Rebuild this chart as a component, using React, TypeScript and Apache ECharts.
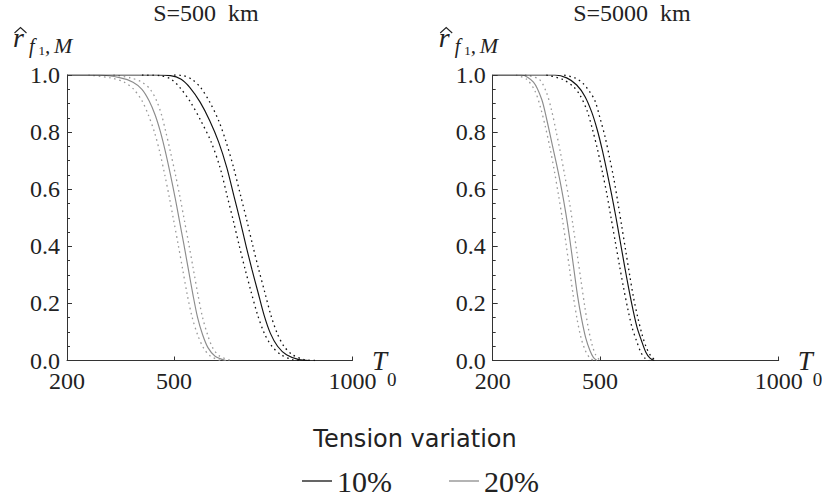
import React, { useEffect, useRef } from "react";
import * as echarts from "echarts";

const panelTitles = ["S=500  km", "S=5000  km"];
const xTicks = [200, 500, 1000];
const yTicks = [0, 0.2, 0.4, 0.6, 0.8, 1.0];
const legendTitle = "Tension variation";
const legendNames = ["10%", "20%"];

// S = 500 km : [T0, r]
const s500BlackSolid = [[200, 1], [450, 1], [490, 0.998], [520, 0.985], [545, 0.955], [573, 0.905], [600, 0.84], [625, 0.765], [648, 0.675], [668, 0.575], [685, 0.49], [702, 0.4], [718, 0.32], [735, 0.24], [752, 0.16], [770, 0.095], [790, 0.05], [815, 0.02], [850, 0.003], [880, 0]];
const s500BlackLo = [[410, 1], [460, 0.998], [492, 0.985], [517, 0.955], [546, 0.905], [575, 0.84], [604, 0.765], [629, 0.675], [649, 0.575], [666, 0.49], [683, 0.4], [699, 0.32], [716, 0.24], [734, 0.16], [753, 0.095], [774, 0.05], [800, 0.02], [832, 0.003], [860, 0]];
const s500BlackHi = [[500, 1], [525, 0.998], [550, 0.985], [575, 0.955], [600, 0.905], [625, 0.84], [646, 0.765], [667, 0.675], [687, 0.575], [704, 0.49], [721, 0.4], [737, 0.32], [754, 0.24], [771, 0.16], [789, 0.095], [808, 0.05], [832, 0.02], [865, 0.003], [895, 0]];
const s500GraySolid = [[200, 1], [290, 1], [350, 0.99], [385, 0.975], [410, 0.95], [430, 0.91], [447, 0.86], [462, 0.8], [476, 0.73], [490, 0.65], [503, 0.57], [515, 0.49], [527, 0.41], [540, 0.32], [553, 0.23], [566, 0.15], [580, 0.09], [595, 0.045], [615, 0.015], [645, 0]];
const s500GrayLo = [[260, 1], [322, 0.99], [360, 0.975], [387, 0.95], [410, 0.91], [428, 0.86], [445, 0.8], [460, 0.73], [474, 0.65], [487, 0.57], [499, 0.49], [511, 0.41], [524, 0.32], [537, 0.23], [551, 0.15], [566, 0.09], [582, 0.045], [602, 0.015], [630, 0]];
const s500GrayHi = [[330, 1], [378, 0.99], [410, 0.975], [433, 0.95], [451, 0.91], [465, 0.86], [477, 0.8], [490, 0.73], [504, 0.65], [517, 0.57], [529, 0.49], [541, 0.41], [554, 0.32], [567, 0.23], [580, 0.15], [594, 0.09], [608, 0.045], [628, 0.015], [660, 0]];

// S = 5000 km : [T0, r]
const s5000BlackSolid = [[200, 1], [374, 1], [407, 0.99], [435, 0.965], [458, 0.925], [477, 0.87], [492, 0.81], [506, 0.74], [519, 0.665], [532, 0.585], [545, 0.5], [557, 0.415], [569, 0.33], [580, 0.255], [592, 0.18], [604, 0.115], [616, 0.07], [628, 0.03], [640, 0.008], [652, 0]];
const s5000BlackLo = [[350, 1], [395, 0.985], [425, 0.96], [444, 0.93], [464, 0.875], [479, 0.81], [493, 0.74], [506, 0.665], [519, 0.585], [531, 0.5], [543, 0.415], [555, 0.33], [566, 0.255], [578, 0.18], [590, 0.115], [602, 0.07], [614, 0.03], [626, 0.008], [638, 0]];
const s5000BlackHi = [[400, 1], [430, 0.99], [453, 0.97], [472, 0.94], [486, 0.91], [500, 0.85], [514, 0.785], [527, 0.71], [539, 0.635], [550, 0.555], [561, 0.47], [572, 0.385], [583, 0.3], [594, 0.22], [606, 0.15], [618, 0.09], [630, 0.045], [643, 0.015], [656, 0]];
const s5000GraySolid = [[200, 1], [280, 1], [314, 0.975], [337, 0.915], [351, 0.845], [365, 0.765], [379, 0.685], [392, 0.605], [404, 0.52], [415, 0.43], [426, 0.33], [437, 0.23], [448, 0.15], [460, 0.08], [472, 0.035], [482, 0.01], [492, 0]];
const s5000GrayLo = [[265, 1], [295, 0.985], [318, 0.945], [334, 0.885], [348, 0.815], [361, 0.74], [373, 0.66], [384, 0.58], [395, 0.495], [405, 0.41], [415, 0.32], [425, 0.23], [436, 0.145], [447, 0.08], [459, 0.035], [471, 0.01], [483, 0]];
const s5000GrayHi = [[290, 1], [330, 0.985], [350, 0.94], [364, 0.88], [377, 0.805], [390, 0.725], [402, 0.645], [414, 0.56], [425, 0.47], [436, 0.375], [447, 0.28], [458, 0.185], [468, 0.11], [478, 0.055], [488, 0.02], [500, 0]];

const BLACK = "#111111";
const GRAY = "#8c8c8c";
const GRAY_DOT = "#9a9a9a";
const SERIF = "Liberation Serif, Times New Roman, serif";
const SANS = "DejaVu Sans, sans-serif";

const panelData = [
  { gray: s500GraySolid, grayLo: s500GrayLo, grayHi: s500GrayHi, black: s500BlackSolid, blackLo: s500BlackLo, blackHi: s500BlackHi },
  { gray: s5000GraySolid, grayLo: s5000GrayLo, grayHi: s5000GrayHi, black: s5000BlackSolid, blackLo: s5000BlackLo, blackHi: s5000BlackHi },
];

const grids = [
  { left: 67, top: 75, width: 285.5, height: 285.5 },
  { left: 492.7, top: 75, width: 286, height: 285.5 },
];

export default function App() {
  const ref = useRef<HTMLDivElement>(null);
  useEffect(() => {
    if (!ref.current) return;
    const chart = echarts.init(ref.current, null, { renderer: "svg" });

    const series: any[] = [];
    panelData.forEach((p, i) => {
      const mk = (name: string, data: number[][], color: string, dotted: boolean, z: number) => ({
        name,
        type: "line",
        xAxisIndex: i,
        yAxisIndex: i,
        data,
        showSymbol: false,
        symbol: "none",
        smooth: 0.3,
        z,
        color,
        itemStyle: { color },
        lineStyle: dotted
          ? { color, width: 1.3, type: [1.6, 3.6] }
          : { color, width: 1.15, type: "solid" },
        emphasis: { disabled: true },
        silent: true,
      });
      series.push(mk(legendNames[1], p.gray, GRAY, false, 2));
      series.push(mk("20% bound lo", p.grayLo, GRAY_DOT, true, 2));
      series.push(mk("20% bound hi", p.grayHi, GRAY_DOT, true, 2));
      series.push(mk(legendNames[0], p.black, BLACK, false, 3));
      series.push(mk("10% bound lo", p.blackLo, BLACK, true, 3));
      series.push(mk("10% bound hi", p.blackHi, BLACK, true, 3));
    });

    const labelStyle = {
      fontFamily: SERIF,
      fontSize: 24,
      fontWeight: "normal",
      fontStyle: "normal",
      color: "#222",
    };

    const xAxes = grids.map((_, i) => ({
      type: "value",
      gridIndex: i,
      min: xTicks[0],
      max: xTicks[xTicks.length - 1],
      axisLine: { show: true, lineStyle: { color: "#333", width: 1 } },
      axisTick: { show: true, inside: true, length: 4, customValues: xTicks, lineStyle: { color: "#333" } },
      axisLabel: {
        ...labelStyle,
        customValues: xTicks,
        margin: 8,
        formatter: (v: number) => String(v),
      },
      splitLine: { show: false },
    }));

    const yAxes = grids.map((_, i) => ({
      type: "value",
      gridIndex: i,
      min: yTicks[0],
      max: yTicks[yTicks.length - 1],
      interval: 0.2,
      axisLine: { show: true, lineStyle: { color: "#333", width: 1 } },
      axisTick: { show: true, inside: true, length: 5, lineStyle: { color: "#333" } },
      minorTick: { show: true, splitNumber: 4, length: 3, lineStyle: { color: "#333" } },
      axisLabel: {
        ...labelStyle,
        margin: 7,
        formatter: (v: number) => v.toFixed(1),
      },
      splitLine: { show: false },
    }));

    const dxs = [0, 425.7];
    const graphic: any[] = [];
    dxs.forEach((dx) => {
      const txt = (text: string, x: number, y: number, size: number, italic: boolean) => ({
        type: "text",
        x: x + dx,
        y,
        silent: true,
        style: {
          text,
          fontFamily: SERIF,
          fontSize: size,
          fontStyle: italic ? "italic" : "normal",
          fill: "#222",
          align: "left",
          verticalAlign: "middle",
        },
      });
      graphic.push({
        type: "polyline",
        silent: true,
        shape: { points: [[14.5 + dx, 33], [20.5 + dx, 27.5], [26.5 + dx, 33]] },
        style: { stroke: "#222", lineWidth: 1.1, fill: null },
      });
      graphic.push(txt("r", 13, 37.5, 28, true));
      graphic.push(txt("f", 29, 45.6, 20, true));
      graphic.push(txt("1", 38.5, 50.6, 13, false));
      graphic.push(txt(",", 45, 45.6, 21, true));
      graphic.push(txt("M", 54, 45.6, 22, true));
      graphic.push(txt("T", 372, 361, 27, true));
      graphic.push(txt("0", 387, 379, 19, false));
    });

    chart.setOption({
      animation: false,
      backgroundColor: "#ffffff",
      textStyle: { fontFamily: SERIF },
      title: [
        { text: panelTitles[0], left: 206, top: 1, padding: 0, textAlign: "center", textStyle: { fontFamily: SERIF, fontSize: 24, fontWeight: "normal", color: "#222" } },
        { text: panelTitles[1], left: 632, top: 1, padding: 0, textAlign: "center", textStyle: { fontFamily: SERIF, fontSize: 24, fontWeight: "normal", color: "#222" } },
        { text: legendTitle, left: 415, top: 427, padding: 0, textAlign: "center", textStyle: { fontFamily: SANS, fontSize: 24, fontWeight: "normal", color: "#222" } },
      ],
      legend: {
        data: legendNames,
        left: 302,
        top: 466,
        padding: 0,
        icon: "rect",
        itemWidth: 30,
        itemHeight: 1.3,
        itemGap: 57,
        selectedMode: false,
        textStyle: { fontFamily: SERIF, fontSize: 30, fontWeight: "normal", color: "#222" },
      },
      grid: grids,
      xAxis: xAxes,
      yAxis: yAxes,
      series,
      graphic,
    });
    return () => chart.dispose();
  }, []);
  return (
    <div
      ref={ref}
      style={{ position: "fixed", left: 0, top: 0, width: 822, height: 499, background: "#fff" }}
    />
  );
}
